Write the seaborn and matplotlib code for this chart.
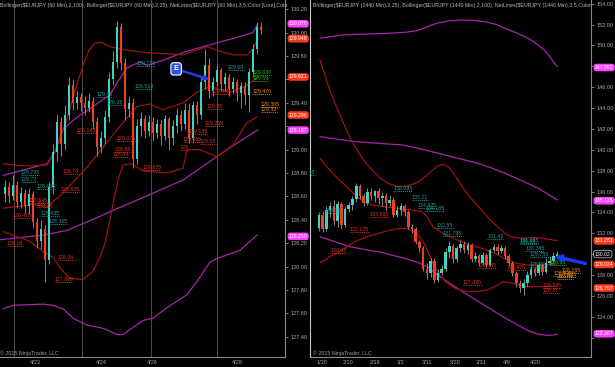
import matplotlib
matplotlib.use("Agg")
import matplotlib.pyplot as plt
import seaborn as sns
import numpy as np
import pandas as pd

# ---------------- LEFT PANEL: EURJPY 60 min ----------------
L_first_open = 128.62
L_close = [128.68, 128.60, 128.70, 128.55, 128.63, 128.52, 128.62, 128.38, 128.22, 128.32,
           128.06, 128.68, 128.98, 129.24, 129.05, 129.30, 129.55, 129.40, 129.45, 129.40,
           129.36, 129.42, 129.24, 129.02, 129.10, 129.28, 129.60, 129.75, 130.05, 129.74,
           129.35, 129.40, 128.92, 129.20, 129.26, 129.16, 129.24, 129.14, 129.22, 129.12,
           129.26, 129.10, 129.20, 129.30, 129.22, 129.34, 129.10, 129.38, 129.30, 129.58,
           129.72, 129.50, 129.58, 129.68, 129.56, 129.62, 129.52, 129.58, 129.48, 129.54,
           129.47, 129.66, 129.86, 130.05, 130.02]
L_high = [128.74, 128.72, 128.78, 128.73, 128.68, 128.66, 128.67, 128.65, 128.42, 128.40,
          128.36, 128.72, 129.05, 129.30, 129.28, 129.38, 129.62, 129.60, 129.50, 129.48,
          129.46, 129.48, 129.45, 129.28, 129.16, 129.34, 129.66, 129.84, 130.10, 130.08,
          129.78, 129.46, 129.44, 129.26, 129.32, 129.30, 129.30, 129.28, 129.26, 129.25,
          129.30, 129.28, 129.25, 129.36, 129.34, 129.40, 129.40, 129.42, 129.42, 129.62,
          129.86, 129.78, 129.62, 129.72, 129.70, 129.66, 129.65, 129.62, 129.60, 129.58,
          129.58, 129.70, 129.90, 130.08, 130.09]
L_low = [128.55, 128.54, 128.57, 128.50, 128.50, 128.46, 128.45, 128.33, 128.16, 128.15,
         127.87, 128.02, 128.62, 128.90, 128.95, 129.00, 129.25, 129.34, 129.35, 129.33,
         129.30, 129.32, 129.18, 128.95, 128.97, 129.05, 129.24, 129.55, 129.70, 129.68,
         129.25, 129.28, 128.84, 128.88, 129.12, 129.10, 129.12, 129.08, 129.10, 129.04,
         129.08, 129.00, 129.04, 129.14, 129.16, 129.18, 129.06, 129.06, 129.22, 129.26,
         129.52, 129.44, 129.46, 129.54, 129.50, 129.50, 129.46, 129.48, 129.42, 129.36,
         129.38, 129.32, 129.62, 129.82, 129.99]

# Bollinger(2,100) - magenta
L_bb100_up_x = [-0.5, 5, 10.5, 12.5, 14.5, 17, 19, 21.25, 23.75, 26.25, 28, 30.5, 33.75, 35.5, 40, 44.5, 49.5, 53.75, 57, 60, 62, 63.25]
L_bb100_up_y = [128.78, 128.83, 128.88, 128.98, 129.17, 129.25, 129.30, 129.35, 129.41, 129.47, 129.57, 129.70, 129.75, 129.72, 129.77, 129.83, 129.88, 129.92, 129.95, 129.98, 130.00, 130.08]
L_bb100_mid_x = [-1.25, 9.5, 15.5, 23.75, 26.25, 33.75, 44.5, 51.25, 55.5, 60, 63.25]
L_bb100_mid_y = [128.23, 128.27, 128.31, 128.43, 128.47, 128.58, 128.74, 128.90, 129.00, 129.10, 129.17]
L_bb100_low_x = [-0.5, 2, 9.5, 12, 14.5, 17, 20.5, 23.75, 25.5, 28, 29.5, 32, 34.5, 37, 40.5, 45.5, 48.75, 51.25, 53, 58.75, 63]
L_bb100_low_y = [127.64, 127.67, 127.68, 127.67, 127.64, 127.56, 127.50, 127.48, 127.46, 127.42, 127.42, 127.48, 127.54, 127.56, 127.65, 127.76, 127.91, 128.04, 128.07, 128.14, 128.27]
# Bollinger(2,25) - dark red
L_bb25_up_x = [-0.5, 5, 10.5, 12, 13.5, 15.5, 17.5, 19.5, 21, 22.5, 24, 26.25, 30.5, 35.5, 44.5, 50.5, 53.75, 57, 60.5, 62, 63.25]
L_bb25_up_y = [128.88, 128.86, 128.87, 128.95, 129.08, 129.26, 129.50, 129.72, 129.85, 129.91, 129.92, 129.88, 129.85, 129.83, 129.81, 129.88, 129.84, 129.81, 129.81, 129.86, 129.95]
L_bb25_mid_x = [-0.5, 7, 10.5, 14.5, 20.5, 24.5, 28.75, 33, 36.25, 39.5, 44.5, 48, 51.25, 56.25, 60, 63.25]
L_bb25_mid_y = [128.50, 128.53, 128.51, 128.63, 128.85, 129.02, 129.20, 129.37, 129.39, 129.34, 129.40, 129.49, 129.54, 129.49, 129.54, 129.62]
L_bb25_low_x = [-0.5, 6, 10, 12, 14, 16.25, 19.5, 22, 23.75, 25, 26, 27, 28.25, 29.5, 31.5, 34.5, 40.5, 44.5, 45.5, 48.75, 53, 57, 60.5, 63]
L_bb25_low_y = [128.30, 128.22, 128.12, 128.08, 127.98, 127.90, 127.89, 127.96, 128.08, 128.20, 128.36, 128.54, 128.74, 128.87, 128.88, 128.82, 128.80, 128.84, 129.00, 129.00, 128.94, 129.04, 129.23, 129.28]

# NetLines labels (text, bar index where line starts)
L_net_teal = ["129.716", "129.518", "129.68", "129.45", "129.38", "128.785", "128.72", "128.665", "128.435", "128.365"]
L_net_teal_x = [33, 32.5, 55.75, 23, 25.5, 4, 4, 8, 9, 11]
L_net_red = ["129.145", "128.79", "128.635", "129.075", "128.98", "128.94", "128.825", "129.065", "129.05", "129",
             "129.205", "129.135", "129.35", "129.475", "128.06", "127.868", "128.18", "128.415", "128.545", "128.51"]
L_net_red_x = [18, 14.5, 14, 28, 27.5, 27, 34.5, 44.5, 48.75, 43.75, 50, 46, 50.5, 51.75, 13.25, 12.5, 0.5, 2, 6, 8]
L_net_green = ["129.636", "129.59"]
L_net_green_x = [62, 62]
L_net_orange = ["129.476", "129.365", "129.32"]
L_net_orange_x = [62, 64, 64]

L_tags = ["130.076", "129.948", "129.621", "129.296", "129.167", "128.259"]
L_tag_kind = ["m", "r", "r", "r", "m", "m"]
L_yticks = [127.40, 127.60, 127.80, 128.00, 128.20, 128.40, 128.60, 128.80, 129.00, 129.20, 129.40, 129.60, 129.80, 130.00, 130.20]
L_xtick_pos = [7.5, 24, 36.75, 58]
L_xtick_lab = ["4/23", "4/24", "4/26", "4/28"]
L_grid = [2.25, 19.25, 36.5, 53]

# ---------------- RIGHT PANEL: EURJPY daily ----------------
R_first_open = 132.5
R_close = [133.8, 132.4, 134.2, 134.6, 133.2, 134.8, 132.8, 134.3, 134.7, 135.3,
           136.5, 135.6, 134.9, 136.0, 135.6, 136.1, 135.4, 135.6, 134.9, 135.2,
           133.8, 134.2, 134.6, 134.0, 132.6, 132.4, 131.2, 130.6, 128.6, 128.2,
           129.4, 127.5, 128.2, 128.6, 130.2, 130.8, 129.5, 130.6, 131.0, 130.4,
           130.9, 129.5, 129.8, 129.2, 129.9, 129.0, 130.4, 130.7, 130.3, 130.6,
           129.8, 129.2, 128.2, 127.2, 126.8, 127.2, 128.0, 128.6, 128.2, 129.0,
           128.3, 129.2, 129.4, 129.8, 130.02]
R_high = [134.0, 134.1, 134.6, 135.0, 135.2, 135.1, 135.0, 134.6, 135.0, 135.6,
          136.8, 136.7, 135.9, 136.3, 136.3, 136.2, 136.3, 136.0, 135.9, 135.7,
          135.5, 134.6, 134.9, 134.8, 134.2, 132.9, 132.6, 131.4, 130.8, 129.2,
          129.6, 129.6, 128.6, 129.0, 130.6, 131.3, 131.0, 130.8, 131.4, 131.3,
          131.2, 131.1, 130.2, 130.0, 130.2, 130.1, 130.6, 131.0, 131.0, 130.9,
          130.8, 130.0, 129.4, 128.4, 127.5, 127.6, 128.4, 128.9, 128.8, 129.3,
          129.2, 129.6, 129.8, 130.2, 130.3]
R_low = [132.2, 132.1, 132.2, 133.6, 132.8, 132.6, 132.4, 132.6, 134.0, 134.2,
         135.0, 135.3, 134.6, 134.7, 135.2, 135.0, 134.8, 134.6, 134.2, 134.6,
         133.6, 133.6, 133.8, 133.7, 132.4, 132.0, 131.0, 130.2, 128.4, 127.6,
         127.8, 127.2, 127.3, 128.0, 128.4, 129.6, 129.2, 129.3, 130.2, 130.1,
         130.0, 129.3, 129.3, 128.9, 129.0, 128.8, 128.9, 130.2, 130.0, 130.1,
         129.5, 128.9, 127.9, 126.9, 126.4, 126.1, 127.0, 127.7, 127.9, 128.0,
         128.0, 128.2, 129.0, 129.2, 129.7]

R_bb100_up_x = [0.27, 6.2, 12, 18.5, 23, 25.8, 28, 30, 32, 35, 38.4, 41.5, 44.6, 47.5, 50, 53, 55.4, 57.3, 58.9, 60.5, 62, 64]
R_bb100_up_y = [150.69, 151.0, 151.08, 151.16, 151.25, 151.38, 151.62, 151.92, 152.15, 152.35, 152.44, 152.40, 152.28, 152.02, 151.64, 151.20, 150.84, 150.45, 150.04, 149.55, 148.95, 147.97]
R_bb100_mid_x = [0.27, 9.7, 22.3, 27, 32, 37, 42.7, 46.5, 50, 54.5, 58.9, 64]
R_bb100_mid_y = [141.26, 140.78, 140.47, 140.12, 139.67, 139.22, 138.71, 138.25, 137.75, 137.05, 136.32, 135.2]
R_bb100_low_x = [0.27, 8.3, 16.4, 23.1, 27, 29.8, 32, 35.2, 39.2, 43, 46.5, 50, 53.5, 56, 58.9, 61.5, 64]
R_bb100_low_y = [131.68, 130.72, 130.2, 129.61, 129.15, 128.65, 127.95, 127.22, 126.26, 125.45, 124.66, 123.9, 123.22, 122.7, 122.35, 122.22, 122.32]
R_bb25_up_x = [0.27, 3, 6.2, 8, 9.7, 12, 14.2, 16.5, 18.5, 21, 23.9, 26.5, 28.5, 30.5, 32, 33.5, 35, 37, 39.2, 41.5, 43.8, 46, 48.1, 50, 51.9, 54, 58.9, 64]
R_bb25_up_y = [148.6, 145.6, 142.86, 141.4, 140.3, 139.0, 138.1, 137.3, 136.8, 136.5, 136.55, 136.9, 137.4, 138.05, 138.5, 138.6, 138.3, 137.3, 136.1, 135.1, 134.2, 133.3, 132.6, 132.0, 131.65, 131.55, 131.6, 131.3]
R_bb25_mid_x = [0.27, 2.5, 5, 7.5, 9.7, 12, 14.2, 17.5, 21.2, 24.5, 27.7, 29.2, 30.6, 33.5, 37.1, 41, 45.2, 48, 50.5, 53, 55.9, 60, 64]
R_bb25_mid_y = [139.19, 138.2, 137.28, 136.45, 135.68, 135.05, 134.72, 134.55, 134.4, 134.25, 134.08, 133.5, 132.64, 131.95, 131.37, 130.85, 130.41, 129.95, 129.45, 129.15, 128.97, 128.98, 129.05]
R_bb25_low_x = [0.27, 1.6, 3, 4.8, 7, 9.5, 12.9, 16, 19, 21.8, 24, 26.3, 28, 29.3, 30.6, 32.5, 34.4, 36.8, 39.8, 42.5, 45.2, 47.5, 49.5, 52.2, 55.9, 60, 64]
R_bb25_low_y = [129.2, 129.45, 129.8, 130.09, 130.6, 131.2, 131.68, 132.0, 132.3, 132.49, 132.42, 132.0, 131.2, 130.2, 129.13, 128.0, 127.22, 126.7, 126.42, 126.45, 126.58, 126.95, 127.37, 127.22, 126.89, 126.9, 126.95]

R_net_teal = ["136.095", "135.21", "134.425", "134.185", "132.55", "131.795", "131.42", "131.085", "130.98",
              "130.345", "129.755", "128.77", "133.96", "137.58"]
R_net_teal_x = [20, 25, 26.6, 28.5, 31.7, 33.3, 45.2, 54, 54, 55.4, 56.7, 56.7, 1.6, -5.5]
R_net_red = ["133.565", "132.125", "130.13", "128.645", "128.475", "127.035", "126.735", "126.27"]
R_net_red_x = [13.7, 8.3, 3, 42.5, 50.5, 38.7, 60.2, 60.2]
R_net_green = ["128.93"]
R_net_green_x = [62]
R_net_orange = ["128.165", "127.925", "127.835", "127.66"]
R_net_orange_x = [65.2, 63, 64, 64]

R_tags = ["147.882", "135.125", "131.281", "130.02", "129.024", "126.767", "122.387"]
R_tag_kind = ["m", "m", "r", "k", "r", "r", "m"]
R_yticks = [122, 124, 126, 128, 130, 132, 134, 136, 138, 140, 142, 144, 146, 148, 150, 152, 154]
R_xtick_pos = [0.8, 7.8, 15.1, 22, 29, 36.6, 43.5, 50.5, 58.1]
R_xtick_lab = ["1/30", "2/10", "2/19", "3/2", "3/11", "3/20", "3/31", "4/9", "4/20"]

L_title = ("Bollinger($EURJPY (60 Min),2,100), Bollinger($EURJPY (60 Min),2,25), "
           "NetLines($EURJPY (60 Min),3,5,Color [Line],Colo")
R_title = ("Bollinger($EURJPY (1440 Min),2,25), Bollinger($EURJPY (1440 Min),2,100), "
           "NetLines($EURJPY (1440 Min),3,5,Color")
COPY = "© 2015 NinjaTrader, LLC"

# ---------------- styling ----------------
sns.set_theme(style="dark", rc={
    "axes.facecolor": "black", "figure.facecolor": "black",
    "axes.edgecolor": "#8a8a8a", "text.color": "#b0b0b0",
    "xtick.color": "#a8a8a8", "ytick.color": "#a8a8a8",
    "axes.grid": False,
})
plt.rcParams["font.family"] = ["Liberation Sans", "DejaVu Sans"]

UP = "#3fd3c4"
DN = "#f2401e"
WICK = "#9c9c9c"
MAG = "#a326a8"
DRED = "#9a1410"
TEAL = "#1c9e9a"
NRED = "#e0301c"
GREEN = "#19c21c"
ORANGE = "#e08a10"
TAG = {"m": ("#ff40ff", "none", "white"), "r": ("#ff3a1a", "none", "white"), "k": ("black", "#d0d0d0", "white")}

fig = plt.figure(figsize=(6.15, 3.67), dpi=100, facecolor="black")
axL = fig.add_axes([0, 10 / 367, 285 / 615, 357 / 367])
axR = fig.add_axes([310 / 615, 10 / 367, 281 / 615, 357 / 367])


def draw_candles(ax, first_open, close, high, low, width, min_h):
    df = pd.DataFrame({"i": np.arange(len(close)), "close": close, "high": high, "low": low})
    df["open"] = [first_open] + list(close[:-1])
    up = df["close"] >= df["open"]
    ax.vlines(df["i"], df["low"], df["high"], color=WICK, lw=0.6, zorder=3)
    bottoms = df[["open", "close"]].min(axis=1)
    heights = (df["close"] - df["open"]).abs().clip(lower=min_h)
    ax.bar(df["i"], heights, bottom=bottoms, width=width,
           color=np.where(up, UP, DN), edgecolor="none", zorder=4)


def band(ax, xs, ys, color):
    sns.lineplot(x=xs, y=ys, ax=ax, color=color, linewidth=0.9, estimator=None,
                 sort=False, legend=False, zorder=2)


def net_labels(ax, texts, xs, color, per_char):
    for t, x in zip(texts, xs):
        v = float(t)
        ax.text(x, v, t, color=color, fontsize=3.8, ha="left", va="bottom",
                clip_on=True, zorder=6)
        ax.plot([x, x + per_char * len(t)], [v, v], ls=(0, (1, 1)), color=color,
                lw=0.7, zorder=6, clip_on=True)


def axis_tags(ax, texts, kinds):
    for t, k in zip(texts, kinds):
        fc, ec, tc = TAG[k]
        ax.annotate(t, xy=(1, float(t)), xycoords=("axes fraction", "data"),
                    xytext=(2.8, 0), textcoords="offset points", ha="left", va="center",
                    fontsize=3.7, color=tc, annotation_clip=False, zorder=10,
                    bbox=dict(boxstyle="round,pad=0.25,rounding_size=0.5", fc=fc, ec=ec, lw=0.5))


def style_axis(ax, yticks, ylim, xlim, xpos, xlab, tags):
    ax.set_xlim(*xlim)
    ax.set_ylim(*ylim)
    ax.yaxis.tick_right()
    ax.set_yticks(yticks)
    # a tick label hidden under an opaque price tag is left blank
    px_per_unit = (357.0) / (ylim[1] - ylim[0])
    labels = []
    for v in yticks:
        covered = any(abs(v - float(t)) * px_per_unit < 4.2 for t in tags)
        labels.append("" if covered else f"{v:.2f}")
    ax.set_yticklabels(labels)
    ax.set_xticks(xpos)
    ax.set_xticklabels(xlab)
    ax.tick_params(axis="y", direction="out", length=2.5, width=0.5, labelsize=4, pad=1.5)
    ax.tick_params(axis="x", length=0, labelsize=4, pad=2.2)
    ax.set_xlabel("")
    ax.set_ylabel("")
    ax.spines["top"].set_visible(False)
    for s in ["right", "bottom", "left"]:
        ax.spines[s].set_linewidth(0.8)


# ---------- left ----------
for g in L_grid:
    axL.axvline(g, color="#4d4d4d", lw=0.7, zorder=1)
band(axL, L_bb100_up_x, L_bb100_up_y, MAG)
band(axL, L_bb100_mid_x, L_bb100_mid_y, MAG)
band(axL, L_bb100_low_x, L_bb100_low_y, MAG)
band(axL, L_bb25_up_x, L_bb25_up_y, DRED)
band(axL, L_bb25_mid_x, L_bb25_mid_y, DRED)
band(axL, L_bb25_low_x, L_bb25_low_y, DRED)
draw_candles(axL, L_first_open, L_close, L_high, L_low, 0.72, 0.008)
net_labels(axL, L_net_teal, L_net_teal_x, TEAL, 0.66)
net_labels(axL, L_net_red, L_net_red_x, NRED, 0.66)
net_labels(axL, L_net_green, L_net_green_x, GREEN, 0.66)
net_labels(axL, L_net_orange, L_net_orange_x, ORANGE, 0.66)
style_axis(axL, L_yticks, (127.228, 130.279), (-1.25, 70), L_xtick_pos, L_xtick_lab, L_tags)
axL.spines["left"].set_visible(False)
axis_tags(axL, L_tags, L_tag_kind)
axL.annotate("E", xy=(0.735, 0.777), xycoords="axes fraction", xytext=(0.618, 0.807),
             textcoords="axes fraction", ha="center", va="center", fontsize=5.5,
             color="white", fontweight="bold", zorder=12,
             bbox=dict(boxstyle="round,pad=0.35", fc="#2c50ea", ec="white", lw=0.8),
             arrowprops=dict(arrowstyle="-|>", color="#1f40e0", lw=1.8, mutation_scale=6,
                             shrinkA=0, shrinkB=0))
axL.text(0.0, 0.004, COPY, transform=axL.transAxes, fontsize=3.8, color="#a0a0a0",
         ha="left", va="bottom", zorder=12)

# ---------- right ----------
band(axR, R_bb100_up_x, R_bb100_up_y, MAG)
band(axR, R_bb100_mid_x, R_bb100_mid_y, MAG)
band(axR, R_bb100_low_x, R_bb100_low_y, MAG)
band(axR, R_bb25_up_x, R_bb25_up_y, DRED)
band(axR, R_bb25_mid_x, R_bb25_mid_y, DRED)
band(axR, R_bb25_low_x, R_bb25_low_y, DRED)
draw_candles(axR, R_first_open, R_close, R_high, R_low, 0.7, 0.08)
net_labels(axR, R_net_teal, R_net_teal_x, TEAL, 0.72)
net_labels(axR, R_net_red, R_net_red_x, NRED, 0.72)
net_labels(axR, R_net_green, R_net_green_x, GREEN, 0.72)
net_labels(axR, R_net_orange, R_net_orange_x, ORANGE, 0.72)
style_axis(axR, R_yticks, (120.16, 154.35), (-2.42, 73.1), R_xtick_pos, R_xtick_lab, R_tags)
axR.spines["left"].set_color("#c8c8c8")
axR.set_xticks(np.arange(len(R_close)), minor=True)
axR.tick_params(axis="x", which="minor", direction="in", length=2.5, width=0.5, color="#a0a0a0")
axis_tags(axR, R_tags, R_tag_kind)
axR.annotate("", xy=(0.87, 0.282), xycoords="axes fraction", xytext=(0.98, 0.262),
             textcoords="axes fraction", zorder=12,
             arrowprops=dict(arrowstyle="-|>", color="#1838ff", lw=2.4, mutation_scale=8,
                             shrinkA=0, shrinkB=0))
axR.text(0.01, 0.004, COPY, transform=axR.transAxes, fontsize=3.8, color="#a0a0a0",
         ha="left", va="bottom", zorder=12)

fig.text(0.0, 1 - 6 / 367, L_title, fontsize=3.75, color="#b8b8b8", ha="left", va="center")
fig.text(313 / 615, 1 - 6 / 367, R_title, fontsize=3.75, color="#b8b8b8", ha="left", va="center")

fig.savefig("out.png", dpi=100, facecolor="black")
